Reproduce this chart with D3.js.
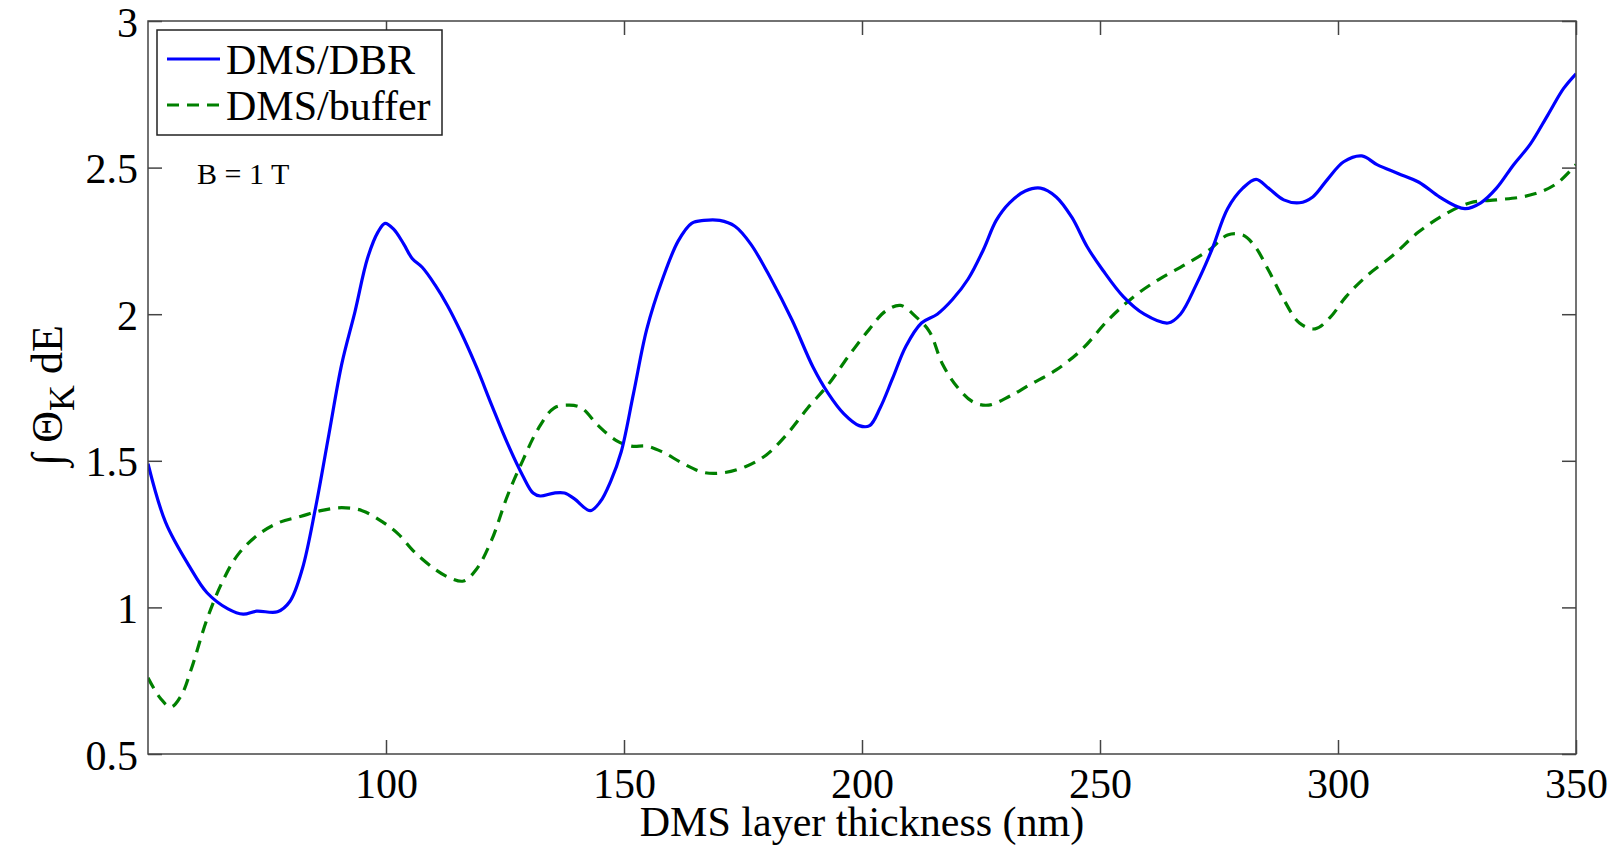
<!DOCTYPE html>
<html>
<head>
<meta charset="utf-8">
<script src="https://cdn.jsdelivr.net/npm/d3@7/dist/d3.min.js"></script>
<style>
  html, body { margin: 0; padding: 0; background: #fff; }
  svg { display: block; }
  text { font-family: "Liberation Serif", "Times New Roman", serif; fill: #000; }
</style>
</head>
<body>
<svg id="chart"></svg>
<script>
// DMS/DBR (solid blue)
const dbrThickness = [50, 53.7, 58.7, 62.4, 66.8, 70, 72.8, 77.2, 79.8, 82.4, 85.2, 88, 90.7, 93.5, 96.1, 98.3, 99.8,
  101.6, 103.7, 105.5, 107.6, 110.3, 112.9, 115.7, 119, 122.2, 125.5, 128.7, 130.9, 132.4, 135.3, 137.5, 139.6,
  142.9, 145, 147.2, 149.4, 152, 154.8, 158.1, 161.4, 164.2, 166.8, 170.1, 173.3, 176.6, 180.9, 185.3, 189.7,
  192.9, 196.2, 199.4, 201.6, 203.8, 206.4, 209.2, 212.5, 215.8, 219, 222.3, 225.5, 228.2, 231, 234.3, 237.5,
  240.8, 244.1, 247.3, 250.6, 254.9, 259.3, 264.3, 266.9, 270.2, 273.5, 276.8, 280, 282.8, 285.4, 288.6, 291.9,
  294.7, 297.8, 301.2, 305, 308.2, 312.6, 317, 321.3, 324.6, 326.7, 330, 333.3, 336.9, 340.4, 344.1, 347.4, 350];
const dbrValues = [1.49, 1.29, 1.14, 1.05, 0.995, 0.977, 0.987, 0.985, 1.02, 1.13, 1.34, 1.59, 1.83, 2.01, 2.19, 2.28, 2.31,
  2.29, 2.24, 2.19, 2.16, 2.10, 2.03, 1.94, 1.82, 1.69, 1.56, 1.45, 1.39, 1.38, 1.39, 1.39, 1.37,
  1.33, 1.36, 1.43, 1.53, 1.73, 1.95, 2.12, 2.25, 2.31, 2.32, 2.32, 2.30, 2.24, 2.12, 1.98, 1.82,
  1.73, 1.66, 1.62, 1.62, 1.68, 1.78, 1.89, 1.97, 2.00, 2.05, 2.12, 2.22, 2.32, 2.38, 2.42, 2.43,
  2.40, 2.33, 2.23, 2.15, 2.06, 2.00, 1.97, 2.00, 2.10, 2.22, 2.36, 2.43, 2.46, 2.43, 2.39, 2.38,
  2.40, 2.46, 2.52, 2.54, 2.51, 2.48, 2.45, 2.40, 2.37, 2.36, 2.38, 2.43, 2.51, 2.58, 2.68, 2.77, 2.82];

// DMS/buffer (dashed green)
const bufThickness = [50, 52.6, 54.8, 57, 59.1, 62.4, 65.7, 68.9, 73.3, 77.6, 82, 86.3, 90.7, 95, 99.4, 102.6, 105.9,
  110.3, 113.5, 116.3, 119, 122.2, 125.5, 128.7, 132, 135.3, 138.5, 141.1, 144.6, 148.3, 151.6, 154.8, 158.1,
  162.5, 166.8, 171.2, 175.5, 179.9, 184.2, 188.6, 192.9, 197.3, 201.6, 204.9, 208.1, 211.4, 214.2, 216.9,
  220.1, 223.4, 226.6, 231, 235.3, 240.8, 246.2, 251.7, 257.1, 262.5, 268, 273, 276.8, 280, 282.6, 285.4,
  288.6, 291.9, 295.2, 298.4, 301.7, 306, 311.5, 316.9, 322.4, 327.8, 333.3, 338.7, 343, 346.3, 350];
const bufValues = [0.76, 0.69, 0.66, 0.70, 0.79, 0.96, 1.09, 1.18, 1.25, 1.29, 1.31, 1.33, 1.34, 1.33, 1.29, 1.25, 1.19,
  1.13, 1.10, 1.09, 1.13, 1.23, 1.38, 1.50, 1.61, 1.68, 1.69, 1.68, 1.62, 1.57, 1.55, 1.55, 1.53,
  1.49, 1.46, 1.46, 1.48, 1.52, 1.59, 1.68, 1.76, 1.86, 1.95, 2.01, 2.03, 1.99, 1.94, 1.83,
  1.75, 1.70, 1.69, 1.72, 1.76, 1.81, 1.88, 1.98, 2.06, 2.12, 2.17, 2.22, 2.27, 2.27, 2.23, 2.15,
  2.05, 1.97, 1.95, 1.99, 2.06, 2.13, 2.20, 2.28, 2.34, 2.38, 2.39, 2.40, 2.42, 2.45, 2.51];

const xTicks = [100, 150, 200, 250, 300, 350];
const yTicks = [0.5, 1, 1.5, 2, 2.5, 3];
const seriesNames = ['DMS/DBR', 'DMS/buffer'];

const W = 1623, H = 846;
const margin = { left: 148, right: W - 1576, top: 21, bottom: H - 754 };
const pw = W - margin.left - margin.right;
const ph = H - margin.top - margin.bottom;

const svg = d3.select('#chart').attr('width', W).attr('height', H);

const x = d3.scaleLinear().domain([50, 350]).range([0, pw]);
const y = d3.scaleLinear().domain([0.5, 3]).range([ph, 0]);

const g = svg.append('g').attr('transform', `translate(${margin.left},${margin.top})`);

g.append('clipPath').attr('id', 'clip')
  .append('rect').attr('width', pw).attr('height', ph);

// Curves
const line = d3.line()
  .x(d => x(d[0]))
  .y(d => y(d[1]))
  .curve(d3.curveCatmullRom.alpha(0.5));

const dbrData = d3.zip(dbrThickness, dbrValues);
const bufData = d3.zip(bufThickness, bufValues);

const curves = g.append('g').attr('clip-path', 'url(#clip)');

curves.append('path')
  .datum(bufData)
  .attr('fill', 'none')
  .attr('stroke', '#008000')
  .attr('stroke-width', 3.2)
  .attr('stroke-dasharray', '12,8')
  .attr('d', line);

curves.append('path')
  .datum(dbrData)
  .attr('fill', 'none')
  .attr('stroke', '#0000ff')
  .attr('stroke-width', 3.2)
  .attr('stroke-linejoin', 'round')
  .attr('d', line);

// Axes (ticks inside, mirrored on top/right)
const tickLen = 14;
const axisColor = '#444';

function styleAxis(sel) {
  sel.select('.domain').remove();
  sel.selectAll('line').attr('stroke', axisColor).attr('stroke-width', 1.5);
  sel.selectAll('text')
    .style('font-family', '"Liberation Serif", "Times New Roman", serif')
    .style('font-size', '42px')
    .attr('fill', '#000');
}

g.append('g')
  .attr('transform', `translate(0,${ph})`)
  .call(d3.axisBottom(x).tickValues(xTicks).tickSizeInner(-tickLen).tickSizeOuter(0).tickPadding(12).tickFormat(d3.format('d')))
  .call(styleAxis)
  .call(a => a.selectAll('text').attr('dy', '0.75em'));

g.append('g')
  .call(d3.axisTop(x).tickValues(xTicks).tickSizeInner(-tickLen).tickSizeOuter(0).tickFormat(''))
  .call(styleAxis);

g.append('g')
  .call(d3.axisLeft(y).tickValues(yTicks).tickSizeInner(-tickLen).tickSizeOuter(0).tickPadding(10).tickFormat(d3.format('')))
  .call(styleAxis)
  .call(a => a.selectAll('text').attr('dy', '0.36em'));

g.append('g')
  .attr('transform', `translate(${pw},0)`)
  .call(d3.axisRight(y).tickValues(yTicks).tickSizeInner(-tickLen).tickSizeOuter(0).tickFormat(''))
  .call(styleAxis);

// Frame
g.append('rect')
  .attr('width', pw).attr('height', ph)
  .attr('fill', 'none')
  .attr('stroke', axisColor)
  .attr('stroke-width', 1.5);

// Axis labels
svg.append('text')
  .attr('x', margin.left + pw / 2)
  .attr('y', 836)
  .attr('text-anchor', 'middle')
  .style('font-size', '42px')
  .text('DMS layer thickness (nm)');

const ylab = svg.append('text')
  .attr('transform', `translate(62,${margin.top + ph / 2 + 8}) rotate(-90)`)
  .attr('text-anchor', 'middle')
  .style('font-size', '44px');
ylab.append('tspan').text('\u222B \u0398');
ylab.append('tspan').attr('dy', 12).style('font-size', '36px').text('K');
ylab.append('tspan').attr('dy', -12).text(' dE');

// Annotation
g.append('text')
  .attr('x', 197 - margin.left)
  .attr('y', 184 - margin.top)
  .style('font-size', '30px')
  .text('B = 1 T');

// Legend
const legend = svg.append('g').attr('transform', 'translate(157,30)');
legend.append('rect')
  .attr('width', 285).attr('height', 105)
  .attr('fill', '#fff')
  .attr('stroke', '#222')
  .attr('stroke-width', 1.5);

const legendStyles = [
  { color: '#0000ff', dash: null },
  { color: '#008000', dash: '12,8' }
];

seriesNames.forEach((name, i) => {
  const ly = 29 + i * 46;
  legend.append('line')
    .attr('x1', 10).attr('x2', 63)
    .attr('y1', ly).attr('y2', ly)
    .attr('stroke', legendStyles[i].color)
    .attr('stroke-width', 3.2)
    .attr('stroke-dasharray', legendStyles[i].dash);
  legend.append('text')
    .attr('x', 69).attr('y', ly + 15)
    .style('font-size', '42px')
    .text(name);
});
</script>
</body>
</html>
